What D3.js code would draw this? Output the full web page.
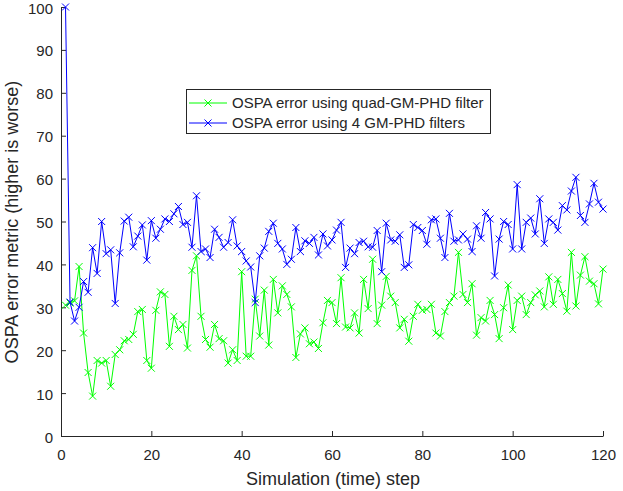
<!DOCTYPE html>
<html>
<head>
<meta charset="utf-8">
<script src="https://cdn.jsdelivr.net/npm/d3@7"></script>
<style>
  body { margin: 0; background: #fff; }
  svg { display: block; }
  text { font-family: "Liberation Sans", Arial, Helvetica, sans-serif; fill: #262626; }
</style>
</head>
<body>
<div id="chart"></div>
<script>
// ---- data ----
const steps = d3.range(1, 121);
const quadGM = [30.5,31.0,31.5,39.5,24.0,14.8,9.3,17.6,17.0,17.6,
  11.6,19.0,20.1,22.2,22.5,23.7,29.0,29.5,17.6,15.8,
  29.3,33.6,33.0,20.9,27.9,24.8,26.0,20.5,38.6,42.0,
  27.9,22.5,20.7,26.0,22.7,22.2,17.0,20.1,17.6,38.3,
  18.6,18.6,31.9,23.3,34.0,21.2,36.5,28.7,35.0,33.0,
  30.1,18.3,23.8,25.2,21.5,21.9,20.4,26.4,31.6,31.1,
  26.2,36.9,25.4,25.2,28.7,24.0,36.5,29.7,41.2,26.2,
  30.5,37.2,32.6,31.1,25.2,27.2,22.1,27.9,30.7,29.3,
  29.5,30.7,24.0,23.3,29.0,31.1,32.6,42.8,33.0,31.1,
  35.5,23.5,27.6,26.8,31.6,28.3,22.7,29.9,35.2,24.8,
  31.6,32.6,28.3,31.1,32.9,33.8,30.1,37.1,30.7,36.5,
  33.2,29.1,42.8,30.3,37.5,41.8,36.1,35.5,30.8,38.9];
const fourGM = [100,31.2,26.8,30.0,36.0,33.5,43.9,37.9,50.0,42.5,
  43.4,30.9,42.7,50.1,51.0,44.1,46.6,49.2,41.0,50.2,
  46.1,48.2,50.6,50.0,51.8,53.5,49.3,49.8,44.0,56.0,
  43.0,43.6,41.6,48.2,46.3,44.0,45.1,50.4,44.3,43.0,
  40.8,39.4,31.1,42.0,43.8,47.7,49.6,44.9,43.6,40.0,
  41.2,48.6,43.0,45.5,44.9,46.3,42.2,47.1,44.3,45.7,
  48.0,49.8,39.3,43.8,42.5,45.1,45.4,44.1,44.0,47.9,
  38.3,49.6,45.7,45.4,46.9,39.3,39.9,49.3,48.6,47.9,
  44.7,50.4,50.6,46.1,41.6,51.9,45.4,45.7,47.1,45.9,
  43.0,49.0,46.1,52.1,50.6,37.3,45.9,50.0,49.3,43.6,
  58.6,43.6,49.8,50.8,47.1,55.3,44.9,50.6,49.8,48.0,
  53.7,52.7,57.1,60.3,51.4,49.8,54.1,58.9,54.5,52.9];
const xTicks = [0, 20, 40, 60, 80, 100, 120];
const yTicks = [0, 10, 20, 30, 40, 50, 60, 70, 80, 90, 100];
const seriesNames = ["OSPA error using quad-GM-PHD filter", "OSPA error using 4 GM-PHD filters"];
const seriesColors = ["#00ff00", "#0000ff"];
const xLabel = "Simulation (time) step";
const yLabel = "OSPA error metric (higher is worse)";

// ---- layout ----
const W = 623, H = 491;
const L = 61, R = 603, T = 7, B = 436;

const svg = d3.select("#chart").append("svg").attr("width", W).attr("height", H);
svg.append("rect").attr("width", W).attr("height", H).attr("fill", "#fff");

const x = d3.scaleLinear().domain([0, 120]).range([L, R]);
const y = d3.scaleLinear().domain([0, 100]).range([B, T]);

// axes
const xAxis = d3.axisBottom(x).tickValues(xTicks).tickSizeInner(-5).tickSizeOuter(0).tickPadding(13);
const yAxis = d3.axisLeft(y).tickValues(yTicks).tickSizeInner(-5).tickSizeOuter(0).tickPadding(8);

const gx = svg.append("g").attr("transform", `translate(0,${B})`).call(xAxis);
const gy = svg.append("g").attr("transform", `translate(${L},0)`).call(yAxis);
[gx, gy].forEach(g => {
  g.selectAll("path.domain").attr("stroke", "#262626").attr("stroke-width", 1);
  g.selectAll(".tick line").attr("stroke", "#262626");
  g.selectAll(".tick text").style("font-size", "15px").attr("fill", "#262626")
    .style("font-family", '"Liberation Sans", Arial, sans-serif');
});
gy.selectAll(".tick text").attr("dy", "0.4em");

// axis labels
svg.append("text").attr("x", (L + R) / 2 + 1).attr("y", 485)
  .attr("text-anchor", "middle").style("font-size", "18px").text(xLabel);
svg.append("text").attr("transform", `translate(18,222) rotate(-90)`)
  .attr("text-anchor", "middle").style("font-size", "18px").text(yLabel);

// series
const xMark = "M-3.5,-3.5L3.5,3.5M-3.5,3.5L3.5,-3.5";
const allSeries = [quadGM, fourGM];
const line = d3.line().x((d, i) => x(steps[i])).y(d => y(d));
allSeries.forEach((vals, si) => {
  const g = svg.append("g");
  g.append("path").datum(vals).attr("d", line).attr("fill", "none")
    .attr("stroke", seriesColors[si]).attr("stroke-width", 1);
  g.selectAll("path.m").data(vals).enter().append("path").attr("class", "m")
    .attr("transform", (d, i) => `translate(${x(steps[i])},${y(d)})`)
    .attr("d", xMark).attr("fill", "none").attr("stroke", seriesColors[si]).attr("stroke-width", 1);
});

// legend
const lg = svg.append("g");
lg.append("rect").attr("x", 186.5).attr("y", 89.5).attr("width", 304).attr("height", 44)
  .attr("fill", "#fff").attr("stroke", "#262626").attr("stroke-width", 1);
seriesNames.forEach((name, i) => {
  const cy = 103 + i * 20;
  lg.append("line").attr("x1", 189).attr("x2", 227).attr("y1", cy).attr("y2", cy)
    .attr("stroke", seriesColors[i]).attr("stroke-width", 1);
  lg.append("path").attr("transform", `translate(208,${cy})`).attr("d", xMark)
    .attr("fill", "none").attr("stroke", seriesColors[i]).attr("stroke-width", 1);
  lg.append("text").attr("x", 232).attr("y", cy).attr("dy", "0.35em")
    .style("font-size", "15px").text(name);
});
</script>
</body>
</html>
